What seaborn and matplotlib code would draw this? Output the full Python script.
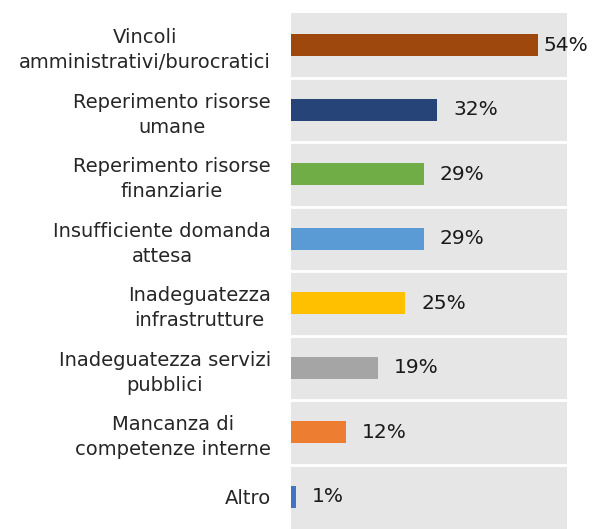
import matplotlib
matplotlib.use("Agg")
import matplotlib.pyplot as plt
import seaborn as sns
import pandas as pd

categories = [
    "Vincoli\namministrativi/burocratici",
    "Reperimento risorse\numane",
    "Reperimento risorse\nfinanziarie",
    "Insufficiente domanda\nattesa",
    "Inadeguatezza\ninfrastrutture",
    "Inadeguatezza servizi\npubblici",
    "Mancanza di\ncompetenze interne",
    "Altro",
]
values = [54, 32, 29, 29, 25, 19, 12, 1]
colors = ["#9E480E", "#264478", "#70AD47", "#5B9BD5", "#FFC000", "#A5A5A5", "#ED7D31", "#4472C4"]

sns.set_theme(style="white")
plt.rcParams["font.family"] = ["DejaVu Sans"]

df = pd.DataFrame({"cat": categories, "val": values})

fig = plt.figure(figsize=(5.92, 5.29), dpi=100)
ax = fig.add_axes([291 / 592, 0.0, (567 - 291) / 592, 516 / 529])
ax.set_facecolor("#E6E6E6")

sns.barplot(data=df, y="cat", x="val", hue="cat", palette=colors, orient="h",
            width=0.34, legend=False, ax=ax, saturation=1, linewidth=0)

ax.set_xlim(0, 60.3)
ax.set_ylim(len(categories) - 0.5, -0.5)
for i in range(len(categories) - 1):
    ax.axhline(i + 0.5, color="white", lw=2.0)

for s in ax.spines.values():
    s.set_visible(False)
ax.set_xticks([])
ax.set_xlabel("")
ax.set_ylabel("")
ax.tick_params(axis="y", length=0, pad=14.5, labelsize=14.0, labelcolor="#262626")
for lbl in ax.get_yticklabels():
    lbl.set_multialignment("center")
    lbl.set_linespacing(1.4)

for i, v in enumerate(values):
    off = 3.5 if v > 50 else 11.5
    ax.annotate(f"{v}%", xy=(v, i), xytext=(off, 0), textcoords="offset points",
                ha="left", va="center", fontsize=14.5, color="#1a1a1a",
                annotation_clip=False)

fig.savefig("out.png", dpi=100)
